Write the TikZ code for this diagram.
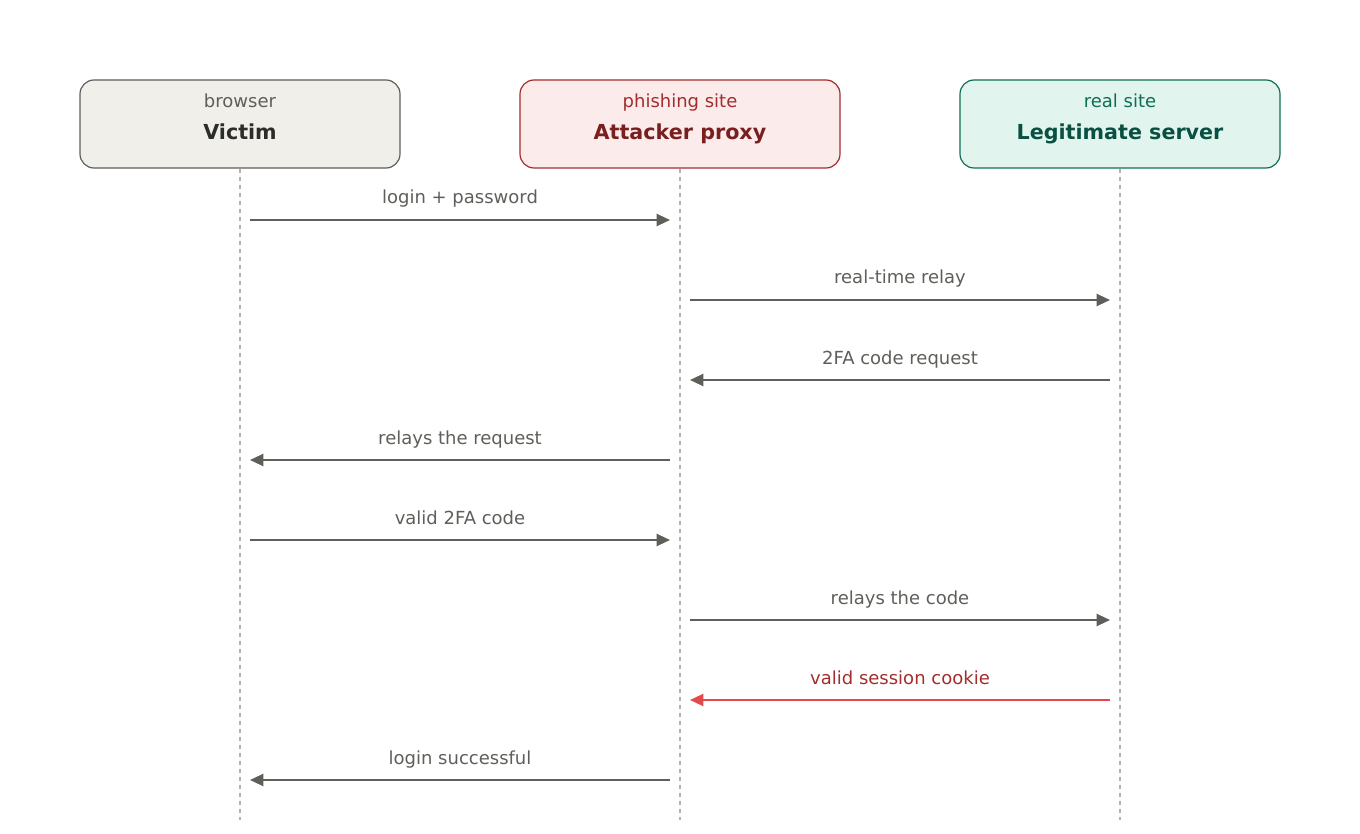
\documentclass[tikz,border=0pt]{standalone}
\usepackage{fontspec}
\setmainfont{DejaVu Sans}
\usetikzlibrary{arrows.meta,calc}
\definecolor{gline}{HTML}{5F5E5A}
\definecolor{vfill}{HTML}{F0EFEA}\definecolor{vtit}{HTML}{2C2C2A}
\definecolor{afill}{HTML}{FCEBEB}\definecolor{astr}{HTML}{A32D2D}\definecolor{atit}{HTML}{791F1F}
\definecolor{lfill}{HTML}{E1F5EE}\definecolor{lstr}{HTML}{0F6E56}\definecolor{ltit}{HTML}{085041}
\definecolor{redarr}{HTML}{E24B4A}
\begin{document}
\begin{tikzpicture}[x=0.75pt,y=-0.75pt,
  box/.style={draw,rounded corners=10.5pt,minimum width=240pt,minimum height=66pt,line width=0.9pt,inner sep=0pt},
  life/.style={draw=gray!60,dashed,dash pattern=on 3pt off 3pt,line width=0.9pt},
  msg/.style={draw=gline,line width=1.6pt,-{Triangle[length=10pt,width=9pt]}},
  lab/.style={font=\fontsize{13.5}{16}\selectfont,text=gline,anchor=base}]
\useasboundingbox (0,0) rectangle (1360,834);
\node[box,fill=vfill,draw=gline] (v) at (240,124) {};
\node[box,fill=afill,draw=astr] (a) at (680,124) {};
\node[box,fill=lfill,draw=lstr] (l) at (1120,124) {};
\foreach \n/\t/\s/\ct/\cs in {v/Victim/browser/vtit/gline, a/Attacker proxy/phishing site/atit/astr, l/Legitimate server/real site/ltit/lstr}{
  \node[anchor=base,font=\bfseries\fontsize{15.5}{18}\selectfont,text=\ct] (\n t) at ([yshift=-12pt]\n.center) {\t};
  \node[anchor=base,font=\fontsize{13.5}{16}\selectfont,text=\cs] (\n s) at ([yshift=12.5pt]\n.center) {\s};
}
\coordinate (vb) at (240,820); \coordinate (ab) at (680,820); \coordinate (lb) at (1120,820);
\draw[life] (v.south) -- (vb);
\draw[life] (a.south) -- (ab);
\draw[life] (l.south) -- (lb);
\foreach \y/\fx/\tx/\txt in {220/250/670/login + password, 300/690/1110/real-time relay, 380/1110/690/2FA code request, 460/670/250/relays the request, 540/250/670/valid 2FA code, 620/690/1110/relays the code, 780/670/250/login successful}{
  \coordinate (s\y) at (\fx,\y); \coordinate (e\y) at (\tx,\y);
  \draw[msg] (s\y) -- (e\y);
  \node[lab] (m\y) at ($(s\y)!0.5!(e\y)+(0,-16)$) {\txt};
}
\coordinate (s700) at (1110,700); \coordinate (e700) at (690,700);
\draw[msg,draw=redarr] (s700) -- (e700);
\node[lab,text=astr] (m700) at (900,684) {valid session cookie};
\end{tikzpicture}
\end{document}
